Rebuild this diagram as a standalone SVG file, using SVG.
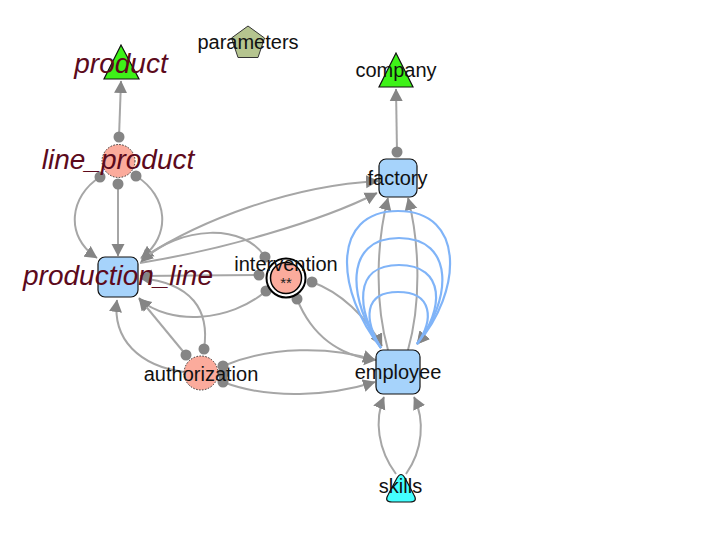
<svg xmlns="http://www.w3.org/2000/svg" width="724" height="538" viewBox="0 0 724 538">
<defs>
<marker id="arr" markerUnits="userSpaceOnUse" markerWidth="14" markerHeight="14" viewBox="0 -7 14 14" refX="12" refY="0" orient="auto">
<path d="M0,-6.5 L12.5,0 L0,6.5 Z" fill="#858585"/>
</marker>
<style>
.e{fill:none;stroke:#a6a6a6;stroke-width:2}
.b{fill:none;stroke:#80b4f8;stroke-width:2.2}
.d{fill:#858585}
.box{fill:#a6d3fb;stroke:#111;stroke-width:1.2}
.sal{fill:#fbab9c}
.lab{font-family:"Liberation Sans",Arial,sans-serif;font-size:20px;fill:#111;text-anchor:middle}
.it{font-family:"Liberation Sans",Arial,sans-serif;font-size:28px;font-style:italic;fill:#5c0a1c;text-anchor:middle}
</style>
</defs>
<rect width="724" height="538" fill="#fff"/>
<g id="edges">
<path class="e" d="M119,137 L121,81" marker-end="url(#arr)"/>
<path class="e" d="M118,184 L118,256" marker-end="url(#arr)"/>
<path class="e" d="M100,177 C70,196 64,236 97,258" marker-end="url(#arr)"/>
<path class="e" d="M136,176 C168,196 172,236 141,258" marker-end="url(#arr)"/>
<path class="e" d="M397,152 L396,89" marker-end="url(#arr)"/>
<path class="e" d="M141,259 C200,220 290,186 378,181" marker-end="url(#arr)"/>
<path class="e" d="M140,263 C220,250 320,222 377,193" marker-end="url(#arr)"/>
<path class="e" d="M265,257 C245,224 180,224 141,262" marker-end="url(#arr)"/>
<path class="e" d="M259,275 L140,276" marker-end="url(#arr)"/>
<path class="e" d="M266,291 C230,322 170,326 139,299" marker-end="url(#arr)"/>
<path class="e" d="M312,282 C340,292 366,316 382,346" marker-end="url(#arr)"/>
<path class="e" d="M297,299 C312,336 340,356 376,360" marker-end="url(#arr)"/>
<path class="e" d="M186,355 L139,298" marker-end="url(#arr)"/>
<path class="e" d="M204,349 C210,310 192,283 140,278" marker-end="url(#arr)"/>
<path class="e" d="M184,372 C140,366 112,340 117,300" marker-end="url(#arr)"/>
<path class="e" d="M223,366 C270,346 330,346 375,360" marker-end="url(#arr)"/>
<path class="e" d="M223,382 C270,400 330,396 375,382" marker-end="url(#arr)"/>
<path class="e" d="M388,350 C374,300 377,240 388,198" marker-end="url(#arr)"/>
<path class="e" d="M408,350 C422,300 419,240 408,198" marker-end="url(#arr)"/>
<path class="b" d="M381,348 C336,292 330,211 398,211 C466,211 462,292 417,344" marker-end="url(#arr)"/>
<path class="b" d="M381,348 C348,300 343,238 399,238 C455,238 452,300 417,344" marker-end="url(#arr)"/>
<path class="b" d="M381,348 C357,310 352,265 399,265 C446,265 444,310 417,344"/>
<path class="b" d="M381,348 C364,320 363,292 398,292 C433,292 434,320 417,344"/>
<path class="e" d="M396,474 C378,450 374,420 384,397" marker-end="url(#arr)"/>
<path class="e" d="M406,474 C423,450 425,420 414,397" marker-end="url(#arr)"/>
<circle class="d" cx="119" cy="137" r="5.5"/>
<circle class="d" cx="118" cy="184" r="5.5"/>
<circle class="d" cx="100" cy="177" r="5.5"/>
<circle class="d" cx="136" cy="176" r="5.5"/>
<circle class="d" cx="397" cy="152" r="5.5"/>
<circle class="d" cx="265" cy="257" r="5.5"/>
<circle class="d" cx="259" cy="275" r="5.5"/>
<circle class="d" cx="266" cy="291" r="5.5"/>
<circle class="d" cx="312" cy="282" r="5.5"/>
<circle class="d" cx="297" cy="299" r="5.5"/>
<circle class="d" cx="186" cy="355" r="5.5"/>
<circle class="d" cx="204" cy="349" r="5.5"/>
<circle class="d" cx="223" cy="366" r="5.5"/>
<circle class="d" cx="223" cy="374" r="5.5"/>
<circle class="d" cx="223" cy="382" r="5.5"/>
</g>
<g id="product">
<polygon points="121,45 104,79 139,79" fill="#3ef218" stroke="#111" stroke-width="1.2"/>
<text class="it" x="121" y="73">product</text>
</g>
<g id="parameters">
<polygon points="248,26 264.5,38 258,57.5 238,57.5 231.5,38" fill="#b5c48f" stroke="#333" stroke-width="1"/>
<text class="lab" x="248" y="49">parameters</text>
</g>
<g id="company">
<polygon points="396,53 379,87 413,87" fill="#3ef218" stroke="#111" stroke-width="1.2"/>
<text class="lab" x="396" y="77">company</text>
</g>
<g id="line_product">
<circle class="sal" cx="118.5" cy="161" r="16.5" stroke="#333" stroke-width="1" stroke-dasharray="1.5,1.5"/>
<text class="it" x="118" y="169">line_product</text>
</g>
<g id="factory">
<rect class="box" x="379" y="159" width="38" height="38" rx="7"/>
<text class="lab" x="397.5" y="185">factory</text>
</g>
<g id="production_line">
<rect class="box" x="98" y="257" width="40" height="40" rx="7"/>
<text class="it" x="118" y="285">production_line</text>
</g>
<g id="intervention">
<circle cx="286" cy="278" r="19.5" fill="#fff" stroke="#000" stroke-width="2"/>
<circle class="sal" cx="286" cy="278" r="15.5" stroke="#000" stroke-width="1.5"/>
<text class="lab" x="286" y="271">intervention</text>
<text x="286" y="288" font-family="Liberation Sans, Arial, sans-serif" font-size="15" fill="#222" text-anchor="middle">**</text>
</g>
<g id="authorization">
<circle class="sal" cx="201" cy="373" r="17" stroke="#333" stroke-width="1" stroke-dasharray="1.5,1.5"/>
<text class="lab" x="201" y="381">authorization</text>
</g>
<g id="employee">
<rect class="box" x="376" y="350" width="44" height="44" rx="7"/>
<text class="lab" x="398" y="379">employee</text>
</g>
<g id="skills">
<path d="M397,478 Q401,471 405,478 L414,495 Q418,502 410,502 L392,502 Q384,502 388,495 Z" fill="#44ffff" stroke="#111" stroke-width="1.2"/>
<text class="lab" x="400.5" y="493">skills</text>
</g>
</svg>
